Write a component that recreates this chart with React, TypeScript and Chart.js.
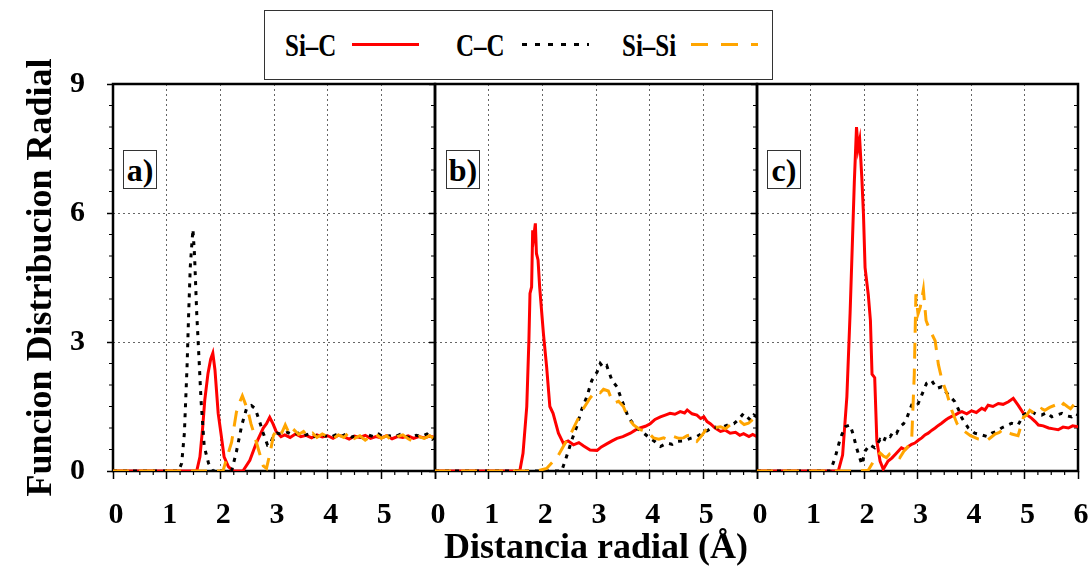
import React, { useEffect, useRef } from "react";
import { Chart, registerables } from "chart.js";

Chart.register(...registerables);

type Pt = [number, number];

const FONT = "'Liberation Serif', 'Times New Roman', serif";

// ---------- axis / label data ----------
const X_TICKS = [0, 1, 2, 3, 4, 5, 6];
const X_LABELS_AB = ["0", "1", "2", "3", "4", "5", ""];
const X_LABELS_C = ["0", "1", "2", "3", "4", "5", "6"];
const Y_TICKS = [0, 3, 6, 9];
const Y_LABELS = ["0", "3", "6", "9"];
const PANEL_LABELS = ["a)", "b)", "c)"];
const SERIES_NAMES = ["Si–C", "C–C", "Si–Si"];
const SERIES_COLORS = ["#FF0000", "#000000", "#FFA500"];
const X_TITLE = "Distancia radial (Å)";
const Y_TITLE = "Funcion Distribucion Radial";

// ---------- panel a ----------
const a_SiC: Pt[] = [
  [0, 0], [1.56, 0], [1.62, 0.33], [1.67, 1.0], [1.71, 1.65], [1.77, 2.27], [1.82, 2.6], [1.86, 2.74],
  [1.9, 2.35], [1.96, 1.34], [2.02, 0.8], [2.07, 0.33], [2.15, 0.1], [2.24, 0], [2.42, 0], [2.55, 0.25],
  [2.67, 0.65], [2.8, 1.0], [2.86, 1.1], [2.92, 1.25], [2.98, 1.1], [3.04, 0.92], [3.13, 0.8], [3.2, 0.84],
  [3.3, 0.78], [3.4, 0.86], [3.5, 0.8], [3.6, 0.83], [3.7, 0.77], [3.8, 0.84], [3.9, 0.79], [4.0, 0.82],
  [4.1, 0.76], [4.2, 0.83], [4.3, 0.8], [4.4, 0.74], [4.5, 0.81], [4.6, 0.78], [4.7, 0.83], [4.8, 0.76],
  [4.9, 0.8], [5.0, 0.77], [5.1, 0.82], [5.2, 0.75], [5.3, 0.8], [5.4, 0.78], [5.5, 0.82], [5.6, 0.76],
  [5.7, 0.8], [5.8, 0.77], [5.9, 0.81], [6.0, 0.78],
];
const a_CC: Pt[] = [
  [0, 0], [1.22, 0], [1.28, 0.18], [1.33, 0.88], [1.38, 2.43], [1.41, 3.67], [1.44, 4.75], [1.47, 5.3],
  [1.49, 5.62], [1.52, 5.0], [1.56, 3.67], [1.61, 2.43], [1.64, 1.65], [1.7, 0.57], [1.78, 0.18], [1.86, 0],
  [2.21, 0], [2.3, 0.45], [2.4, 1.07], [2.49, 1.46], [2.58, 1.52], [2.65, 1.45], [2.71, 1.23], [2.8, 0.88],
  [2.88, 0.6], [2.93, 0.62], [2.99, 0.82], [3.05, 0.88], [3.15, 0.85], [3.25, 0.9], [3.35, 0.84], [3.45, 0.88],
  [3.55, 0.82], [3.65, 0.86], [3.75, 0.8], [3.85, 0.85], [3.95, 0.82], [4.05, 0.78], [4.15, 0.84], [4.25, 0.8],
  [4.35, 0.86], [4.45, 0.79], [4.55, 0.83], [4.65, 0.77], [4.75, 0.84], [4.85, 0.8], [4.95, 0.86], [5.05, 0.78],
  [5.15, 0.82], [5.25, 0.79], [5.35, 0.85], [5.45, 0.8], [5.55, 0.77], [5.65, 0.83], [5.75, 0.8], [5.85, 0.86],
  [5.95, 0.74], [6.0, 0.78],
];
const a_SiSi: Pt[] = [
  [0, 0], [2.05, 0], [2.12, 0.3], [2.21, 0.67], [2.3, 1.37], [2.36, 1.6], [2.41, 1.75], [2.47, 1.55],
  [2.52, 1.37], [2.57, 1.1], [2.62, 0.9], [2.71, 0.5], [2.8, 0.12], [2.86, 0.06], [2.93, 0.44], [2.99, 0.83],
  [3.08, 1.0], [3.15, 0.9], [3.21, 1.07], [3.3, 0.83], [3.38, 0.95], [3.46, 0.85], [3.55, 0.92], [3.63, 0.8],
  [3.72, 0.88], [3.8, 0.78], [3.9, 0.86], [4.0, 0.8], [4.1, 0.75], [4.2, 0.84], [4.3, 0.78], [4.4, 0.9],
  [4.5, 0.76], [4.6, 0.82], [4.7, 0.72], [4.8, 0.8], [4.9, 0.85], [5.0, 0.76], [5.1, 0.82], [5.2, 0.7],
  [5.3, 0.8], [5.4, 0.84], [5.5, 0.75], [5.6, 0.68], [5.7, 0.8], [5.8, 0.76], [5.9, 0.82], [6.0, 0.74],
];

// ---------- panel b ----------
const b_SiC: Pt[] = [
  [0, 0], [1.58, 0], [1.64, 0.41], [1.71, 1.5], [1.75, 3.05], [1.77, 4.13], [1.8, 4.28], [1.82, 5.6],
  [1.84, 5.45], [1.87, 5.76], [1.89, 5.06], [1.92, 4.91], [1.95, 4.28], [2.02, 3.2], [2.08, 2.42], [2.14, 1.5],
  [2.2, 1.34], [2.3, 0.88], [2.39, 0.65], [2.48, 0.7], [2.58, 0.61], [2.68, 0.66], [2.77, 0.58], [2.89, 0.49],
  [3.02, 0.48], [3.1, 0.56], [3.2, 0.63], [3.3, 0.7], [3.39, 0.76], [3.5, 0.8], [3.64, 0.88], [3.73, 0.95],
  [3.82, 1.0], [3.92, 1.04], [4.01, 1.1], [4.1, 1.2], [4.2, 1.26], [4.29, 1.3], [4.38, 1.34], [4.47, 1.32],
  [4.57, 1.38], [4.65, 1.35], [4.7, 1.42], [4.79, 1.33], [4.88, 1.3], [4.95, 1.22], [5.01, 1.26], [5.07, 1.15],
  [5.13, 1.1], [5.22, 1.0], [5.32, 0.92], [5.41, 0.95], [5.5, 0.88], [5.6, 0.9], [5.68, 0.83], [5.75, 0.87],
  [5.85, 0.8], [5.92, 0.85], [6.0, 0.8],
];
const b_CC: Pt[] = [
  [0, 0], [2.36, 0], [2.45, 0.33], [2.55, 0.72], [2.64, 1.03], [2.73, 1.42], [2.83, 1.73], [2.92, 2.1],
  [3.02, 2.3], [3.08, 2.5], [3.14, 2.4], [3.2, 2.45], [3.3, 2.1], [3.39, 1.96], [3.48, 1.65], [3.6, 1.26],
  [3.73, 1.03], [3.89, 0.88], [4.01, 0.76], [4.1, 0.68], [4.2, 0.57], [4.32, 0.65], [4.42, 0.62], [4.51, 0.69],
  [4.63, 0.7], [4.76, 0.76], [4.88, 0.8], [4.98, 0.88], [5.09, 0.95], [5.19, 1.03], [5.28, 1.0], [5.38, 1.03],
  [5.47, 1.08], [5.57, 1.1], [5.66, 1.2], [5.75, 1.34], [5.82, 1.25], [5.88, 1.18], [5.94, 1.3], [6.0, 1.26],
];
const b_SiSi: Pt[] = [
  [0, 0], [1.9, 0], [2.08, 0.06], [2.2, 0.22], [2.3, 0.37], [2.39, 0.57], [2.52, 0.84], [2.64, 1.15],
  [2.77, 1.46], [2.89, 1.7], [2.96, 1.8], [3.02, 1.86], [3.08, 1.82], [3.14, 1.9], [3.23, 1.86], [3.28, 1.7],
  [3.33, 1.58], [3.42, 1.62], [3.51, 1.5], [3.6, 1.23], [3.7, 1.07], [3.82, 0.96], [3.95, 0.92], [4.07, 0.77],
  [4.17, 0.74], [4.26, 0.77], [4.36, 0.72], [4.45, 0.8], [4.54, 0.76], [4.63, 0.77], [4.7, 0.82], [4.76, 0.84],
  [4.88, 0.69], [4.98, 0.84], [5.07, 1.0], [5.19, 1.0], [5.32, 1.03], [5.41, 0.98], [5.5, 1.07], [5.6, 1.1],
  [5.69, 1.15], [5.76, 1.08], [5.84, 1.11], [5.92, 1.2], [6.0, 1.15],
];

// ---------- panel c ----------
const c_SiC: Pt[] = [
  [0, 0], [1.52, 0], [1.6, 0.37], [1.68, 1.73], [1.74, 3.67], [1.78, 5.2], [1.82, 6.75], [1.86, 8.0],
  [1.89, 7.5], [1.92, 7.7], [1.96, 6.8], [1.99, 5.97], [2.02, 4.73], [2.08, 4.1], [2.12, 3.5], [2.15, 2.25],
  [2.2, 2.17], [2.24, 0.7], [2.3, 0.23], [2.36, 0.04], [2.45, 0.23], [2.52, 0.3], [2.58, 0.38], [2.64, 0.46],
  [2.7, 0.54], [2.77, 0.5], [2.83, 0.57], [2.89, 0.62], [2.95, 0.65], [3.02, 0.72], [3.08, 0.77], [3.14, 0.84],
  [3.2, 0.88], [3.27, 0.95], [3.33, 1.0], [3.39, 1.06], [3.45, 1.11], [3.52, 1.18], [3.58, 1.23], [3.64, 1.27],
  [3.7, 1.3], [3.77, 1.35], [3.83, 1.38], [3.92, 1.33], [4.01, 1.4], [4.1, 1.36], [4.2, 1.46], [4.26, 1.42],
  [4.32, 1.53], [4.41, 1.5], [4.51, 1.57], [4.6, 1.55], [4.7, 1.61], [4.79, 1.69], [4.88, 1.53], [4.98, 1.34],
  [5.05, 1.3], [5.13, 1.23], [5.2, 1.15], [5.26, 1.07], [5.35, 1.05], [5.45, 1.0], [5.54, 0.98], [5.63, 0.96],
  [5.72, 1.02], [5.82, 1.0], [5.9, 1.05], [6.0, 1.03],
];
const c_CC: Pt[] = [
  [0, 0], [1.37, 0], [1.46, 0.31], [1.56, 0.77], [1.65, 1.03], [1.74, 1.07], [1.8, 0.84], [1.86, 0.54],
  [1.96, 0.15], [2.02, 0.46], [2.11, 0.61], [2.2, 0.54], [2.3, 0.73], [2.36, 0.66], [2.42, 0.84], [2.49, 0.8],
  [2.55, 0.92], [2.61, 0.88], [2.67, 1.03], [2.74, 1.1], [2.8, 1.23], [2.89, 1.53], [2.99, 1.5], [3.08, 1.77],
  [3.17, 2.04], [3.26, 2.11], [3.36, 1.92], [3.45, 1.96], [3.52, 1.85], [3.58, 1.77], [3.7, 1.61], [3.77, 1.42],
  [3.83, 1.23], [3.95, 1.0], [4.07, 0.88], [4.2, 0.84], [4.3, 0.8], [4.39, 0.88], [4.48, 0.92], [4.57, 1.0],
  [4.66, 1.05], [4.76, 1.11], [4.88, 1.07], [4.98, 1.3], [5.05, 1.35], [5.13, 1.38], [5.22, 1.32], [5.32, 1.3],
  [5.42, 1.36], [5.51, 1.26], [5.6, 1.3], [5.7, 1.34], [5.8, 1.28], [5.88, 1.26], [5.95, 1.34], [6.0, 1.3],
];
const c_SiSi: Pt[] = [
  [0, 0], [1.9, 0], [2.08, 0.02], [2.18, 0.23], [2.3, 0.42], [2.36, 0.35], [2.42, 0.31], [2.48, 0.4],
  [2.55, 0.42], [2.61, 0.36], [2.67, 0.31], [2.74, 0.45], [2.8, 0.54], [2.89, 0.69], [2.94, 2.25], [2.97, 4.11],
  [3.01, 3.65], [3.05, 3.8], [3.08, 4.0], [3.11, 4.22], [3.16, 3.5], [3.21, 3.34], [3.27, 3.18], [3.33, 3.03],
  [3.39, 2.48], [3.46, 2.1], [3.55, 1.8], [3.64, 1.41], [3.74, 1.1], [3.86, 0.94], [3.99, 0.82], [4.14, 0.74],
  [4.29, 0.7], [4.37, 0.78], [4.45, 0.86], [4.53, 0.9], [4.61, 0.97], [4.69, 0.9], [4.76, 0.86], [4.88, 0.82],
  [4.98, 1.25], [5.04, 1.3], [5.1, 1.41], [5.18, 1.35], [5.26, 1.33], [5.32, 1.45], [5.38, 1.41], [5.47, 1.48],
  [5.57, 1.53], [5.65, 1.45], [5.73, 1.57], [5.8, 1.5], [5.86, 1.45], [5.93, 1.55], [6.0, 1.53],
];

// ---------- layout ----------
type Panel = {
  siC: Pt[]; cc: Pt[]; siSi: Pt[];
  left: number; width: number; yAxisWidth: number; padRight: number;
  xLabels: string[]; showYLabels: boolean; showXTitle: boolean; mirrorRight: boolean;
  labelLeft: number;
};

const PANELS: Panel[] = [
  { siC: a_SiC, cc: a_CC, siSi: a_SiSi, left: 0, width: 440, yAxisWidth: 113, padRight: 5, xLabels: X_LABELS_AB, showYLabels: true, showXTitle: false, mirrorRight: false, labelLeft: 123 },
  { siC: b_SiC, cc: b_CC, siSi: b_SiSi, left: 400, width: 362, yAxisWidth: 35, padRight: 5, xLabels: X_LABELS_AB, showYLabels: false, showXTitle: true, mirrorRight: false, labelLeft: 446 },
  { siC: c_SiC, cc: c_CC, siSi: c_SiSi, left: 722, width: 370, yAxisWidth: 35, padRight: 14, xLabels: X_LABELS_C, showYLabels: false, showXTitle: false, mirrorRight: true, labelLeft: 767 },
];

const X_MINOR_STEP = 0.25;
const Y_MINOR_STEP = 0.5;

function framePlugin(mirror: boolean) {
  return {
    id: "frame",
    beforeDatasetsDraw(chart: any) {
      const { ctx, chartArea, scales } = chart;
      const { left, right, top, bottom } = chartArea;
      const x = scales.x;
      const y = scales.y;
      ctx.save();
      ctx.strokeStyle = "#000";
      ctx.lineWidth = 1.2;
      ctx.beginPath();
      for (let v = 0; v <= 6.0001; v += X_MINOR_STEP) {
        if (Math.abs(v - Math.round(v)) < 1e-6) continue;
        const px = x.getPixelForValue(v);
        ctx.moveTo(px, bottom);
        ctx.lineTo(px, bottom + 4);
      }
      for (let v = 0; v <= 9.0001; v += Y_MINOR_STEP) {
        const major = Math.abs(v / 3 - Math.round(v / 3)) < 1e-6;
        const py = y.getPixelForValue(v);
        if (!major) {
          ctx.moveTo(left - 4, py);
          ctx.lineTo(left, py);
        }
        if (mirror) {
          ctx.moveTo(right - (major ? 6 : 4), py);
          ctx.lineTo(right, py);
        }
      }
      ctx.stroke();
      ctx.lineWidth = 2.5;
      ctx.strokeRect(left, top, right - left, bottom - top);
      ctx.restore();
    },
  };
}

function makeChart(canvas: HTMLCanvasElement, p: Panel) {
  const toXY = (arr: Pt[]) => arr.map(([x, y]) => ({ x, y }));
  const tickFont = { family: FONT, size: 30, weight: "bold" as const };
  const titleFont = { family: FONT, size: 36, weight: "bold" as const };
  return new Chart(canvas, {
    type: "line",
    data: {
      datasets: [
        { label: SERIES_NAMES[2], data: toXY(p.siSi), borderColor: SERIES_COLORS[2], borderWidth: 3, borderDash: [16, 10], pointRadius: 0, tension: 0, fill: false },
        { label: SERIES_NAMES[1], data: toXY(p.cc), borderColor: SERIES_COLORS[1], borderWidth: 3, borderDash: [4, 6], pointRadius: 0, tension: 0, fill: false },
        { label: SERIES_NAMES[0], data: toXY(p.siC), borderColor: SERIES_COLORS[0], borderWidth: 3, pointRadius: 0, tension: 0, fill: false },
      ],
    },
    options: {
      animation: false,
      responsive: false,
      events: [],
      layout: { padding: { left: 0, right: p.padRight, top: 84, bottom: 0 } },
      plugins: { legend: { display: false }, tooltip: { enabled: false }, title: { display: false } },
      scales: {
        x: {
          type: "linear",
          min: 0,
          max: 6,
          afterBuildTicks: (s: any) => { s.ticks = X_TICKS.map((v) => ({ value: v })); },
          ticks: {
            autoSkip: false,
            maxRotation: 0,
            padding: 18,
            labelOffset: 3,
            color: "#000",
            font: tickFont,
            callback: (v: any) => p.xLabels[X_TICKS.indexOf(Number(v))] ?? "",
          },
          grid: {
            color: (c: any) => (c.tick && (c.tick.value === 0 || c.tick.value === 6) ? "rgba(0,0,0,0)" : "#666"),
            lineWidth: 1,
            drawTicks: true,
            tickLength: 8,
            tickColor: "#000",
            tickWidth: 1.5,
          },
          border: { display: false, dash: [2, 3] },
          title: { display: p.showXTitle, text: X_TITLE, color: "#000", font: titleFont, padding: { top: 0, bottom: 0 } },
          afterFit: (s: any) => { s.height = 99; s.paddingLeft = 0; s.paddingRight = 0; },
        },
        y: {
          type: "linear",
          min: 0,
          max: 9,
          afterBuildTicks: (s: any) => { s.ticks = Y_TICKS.map((v) => ({ value: v })); },
          ticks: {
            padding: 22,
            color: "#000",
            font: tickFont,
            callback: (v: any) => (p.showYLabels ? Y_LABELS[Y_TICKS.indexOf(Number(v))] ?? "" : ""),
          },
          grid: {
            color: (c: any) => (c.tick && (c.tick.value === 0 || c.tick.value === 9) ? "rgba(0,0,0,0)" : "#666"),
            lineWidth: 1,
            drawTicks: true,
            tickLength: 6,
            tickColor: "#000",
            tickWidth: 1.5,
          },
          border: { display: false, dash: [2, 3] },
          title: { display: p.showYLabels, text: Y_TITLE, color: "#000", font: titleFont, padding: { top: 20, bottom: 0 } },
          afterFit: (s: any) => { s.width = p.yAxisWidth; s.paddingTop = 0; s.paddingBottom = 0; },
        },
      },
    } as any,
    plugins: [framePlugin(p.mirrorRight)],
  });
}

const LEGEND_TEXT_LEFT = [285, 456, 622];
const LEGEND_LINE_LEFT = [352, 522, 691];
const LEGEND_LINE_BG = [
  SERIES_COLORS[0],
  `repeating-linear-gradient(to right, ${SERIES_COLORS[1]} 0 5px, transparent 5px 13px)`,
  `repeating-linear-gradient(to right, ${SERIES_COLORS[2]} 0 17px, transparent 17px 30px)`,
];

export default function App() {
  const r0 = useRef<HTMLCanvasElement>(null);
  const r1 = useRef<HTMLCanvasElement>(null);
  const r2 = useRef<HTMLCanvasElement>(null);
  const refs = [r0, r1, r2];

  useEffect(() => {
    const charts = PANELS.map((p, i) => makeChart(refs[i].current as HTMLCanvasElement, p));
    return () => charts.forEach((c) => c.destroy());
  }, []);

  return (
    <div style={{ position: "fixed", left: 0, top: 0, width: 1092, height: 570, background: "#fff", overflow: "hidden" }}>
      {PANELS.map((p, i) => (
        <canvas
          key={i}
          ref={refs[i]}
          width={p.width}
          height={570}
          style={{ position: "absolute", left: p.left, top: 0, width: p.width, height: 570 }}
        />
      ))}
      <div
        style={{
          position: "absolute", left: 264, top: 10, width: 509, height: 70, boxSizing: "border-box",
          border: "1px solid #333", background: "#fff",
        }}
      />
      {SERIES_NAMES.map((name, i) => (
        <React.Fragment key={name}>
          <span
            style={{
              position: "absolute", left: LEGEND_TEXT_LEFT[i], top: 45, fontFamily: FONT, fontWeight: "bold",
              fontSize: 32, lineHeight: 1, whiteSpace: "nowrap", color: "#000",
              transform: "translateY(-50%) scaleX(0.78)", transformOrigin: "left center",
            }}
          >
            {name}
          </span>
          <div
            style={{ position: "absolute", left: LEGEND_LINE_LEFT[i], top: 43, width: 67, height: 3, background: LEGEND_LINE_BG[i] }}
          />
        </React.Fragment>
      ))}
      {PANELS.map((p, i) => (
        <div
          key={"lab" + i}
          style={{
            position: "absolute", left: p.labelLeft, top: 150, width: 34, height: 39, boxSizing: "border-box",
            border: "1px solid #333", background: "#fff", display: "flex", alignItems: "center", justifyContent: "center",
            fontFamily: FONT, fontWeight: "bold", fontSize: 32, lineHeight: 1, color: "#000",
          }}
        >
          {PANEL_LABELS[i]}
        </div>
      ))}
    </div>
  );
}
